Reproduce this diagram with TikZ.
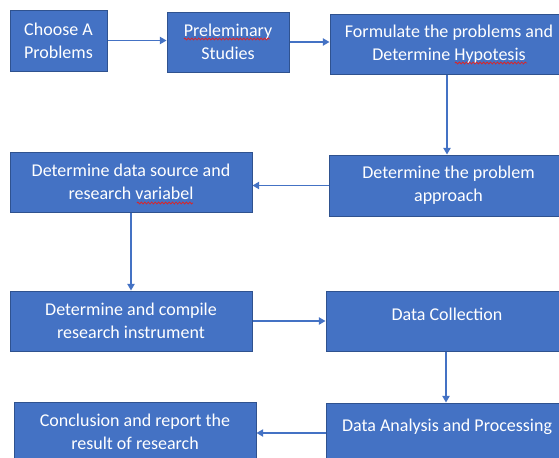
\documentclass[tikz,border=0pt]{standalone}
\usepackage{fontspec}
\setmainfont{Carlito}
\usetikzlibrary{arrows.meta,decorations.pathmorphing}
\definecolor{boxfill}{HTML}{4472C4}
\definecolor{boxline}{HTML}{2F528F}
\definecolor{arrowc}{HTML}{4472C4}
\definecolor{squig}{HTML}{D8262A}
\newcommand\boxfont{\fontsize{13.5}{17}\selectfont}
\begin{document}
\begin{tikzpicture}[x=0.75pt,y=-0.75pt,
  box/.style={draw=boxline,line width=0.75pt,fill=boxfill,text=white,align=center,
    inner sep=0pt,font=\boxfont},
  conn/.style={draw=arrowc,line width=1pt,-{Triangle[length=5pt,width=5.5pt]}},
  spell/.style={draw=squig,line width=0.6pt,decorate,decoration={zigzag,segment length=2.6pt,amplitude=0.7pt}}]
\useasboundingbox (0,0) rectangle (559,457);
\clip (0,0) rectangle (559,457);
\node[box,minimum width=72.75pt,minimum height=45.75pt] (b1) at (58.5,40.5) {Choose A\\Problems};
\node[box,minimum width=91.5pt,minimum height=45pt] (b2) at (228,42) {Preleminary\\Studies};
\node[box,minimum width=178.5pt,minimum height=45pt] (b3) at (449,44) {Formulate the problems and\\Determine Hypotesis};
\node[box,minimum width=179.25pt,minimum height=45.75pt] (b4) at (448.5,185.5) {Determine the problem\\approach};
\node[box,minimum width=181.5pt,minimum height=45pt] (b5) at (131,182) {Determine data source and\\research variabel};
\node[box,minimum width=181.5pt,minimum height=45pt] (b6) at (131,321) {Determine and compile\\research instrument};
\node[box,minimum width=181.5pt,minimum height=45pt,
  label={[text=white,font=\boxfont,yshift=5.25pt]center:Data Collection}] (b7) at (447,321) {};
\node[box,minimum width=181.5pt,minimum height=45pt,
  label={[text=white,font=\boxfont,yshift=4.5pt]center:Data Analysis and Processing}] (b8) at (447,433) {};
\node[box,minimum width=181.5pt,minimum height=45pt] (b9) at (135,432) {Conclusion and report the\\result of research};
\draw[conn] (b1.east) -- (b1.east -| b2.west);
\draw[conn] (b2.east) -- (b2.east -| b3.west);
\draw[conn] (b3.south -| 447,0) -- (b4.north -| 447,0);
\draw[conn] (b4.west) -- (b4.west -| b5.east);
\draw[conn] (b5.south) -- (b6.north);
\draw[conn] (b6.east) -- (b7.west);
\draw[conn] (b7.south -| 446,0) -- (b8.north -| 446,0);
\draw[conn] (b8.west) -- (b8.west -| b9.east);
\draw[spell] (184,39) -- (270,39);
\draw[spell] (455,63) -- (527,63);
\draw[spell] (137,203) -- (193,203);
\end{tikzpicture}
\end{document}
